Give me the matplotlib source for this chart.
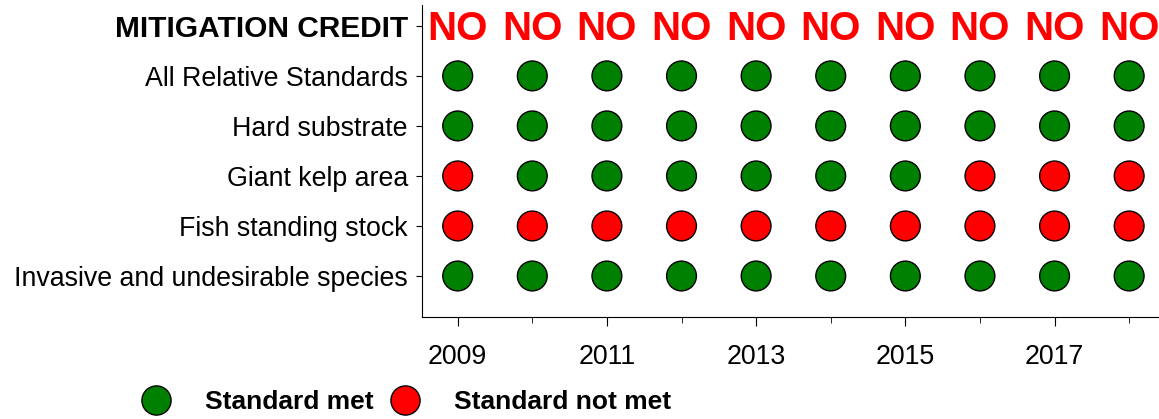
import matplotlib
import matplotlib.pyplot as plt
from matplotlib.lines import Line2D

matplotlib.use("Agg")

plt.rcParams["font.family"] = ["Liberation Sans", "DejaVu Sans"]

YEARS = [2009, 2010, 2011, 2012, 2013, 2014, 2015, 2016, 2017, 2018]
STANDARDS = [
    "Invasive and undesirable species",
    "Fish standing stock",
    "Giant kelp area",
    "Hard substrate",
    "All Relative Standards",
]
# 1 = standard met, 0 = standard not met
INVASIVE = [1, 1, 1, 1, 1, 1, 1, 1, 1, 1]
FISH = [0, 0, 0, 0, 0, 0, 0, 0, 0, 0]
KELP = [0, 1, 1, 1, 1, 1, 1, 0, 0, 0]
SUBSTRATE = [1, 1, 1, 1, 1, 1, 1, 1, 1, 1]
ALL_RELATIVE = [1, 1, 1, 1, 1, 1, 1, 1, 1, 1]
CREDIT = ["NO"] * 10

GREEN = "#008000"
RED = "#ff0000"


def main():
    fig = plt.figure(figsize=(11.59, 4.19), dpi=100)
    ax = fig.add_axes([0.364, 0.2434, 0.636, 0.745])

    rows = [INVASIVE, FISH, KELP, SUBSTRATE, ALL_RELATIVE]
    for i, row in enumerate(rows):
        colors = [GREEN if v else RED for v in row]
        ax.scatter(YEARS, [i] * len(YEARS), s=460, c=colors,
                   edgecolors="black", linewidths=1, zorder=3, clip_on=False)

    credit_y = len(rows)
    for year, txt in zip(YEARS, CREDIT):
        ax.text(year, credit_y - 0.06, txt, color=RED, fontsize=29,
                fontweight="bold", ha="center", va="center")

    ax.set_xlim(2008.52, 2018.4)
    ax.set_ylim(-0.82, 5.42)

    ax.set_yticks(list(range(len(rows) + 1)))
    ax.set_yticklabels(STANDARDS + ["MITIGATION CREDIT"], fontsize=19.3)
    ax.get_yticklabels()[-1].set_fontweight("bold")
    ax.get_yticklabels()[-1].set_fontsize(21.5)

    ax.set_xticks([y for y in YEARS if y % 2 == 1])
    ax.set_xticks([y for y in YEARS if y % 2 == 0], minor=True)
    ax.tick_params(axis="x", which="major", length=6.5, pad=13, labelsize=19.3)
    ax.tick_params(axis="x", which="minor", length=4)
    ax.tick_params(axis="y", length=4, pad=6)

    ax.spines["top"].set_visible(False)
    ax.spines["right"].set_visible(False)

    handles = [
        Line2D([], [], marker="o", linestyle="none", markersize=21,
               markerfacecolor=GREEN, markeredgecolor="black"),
        Line2D([], [], marker="o", linestyle="none", markersize=21,
               markerfacecolor=RED, markeredgecolor="black"),
    ]
    fig.legend(handles, ["Standard met", "Standard not met"], ncol=2,
               loc="center left", bbox_to_anchor=(0.0915, 0.04), frameon=False,
               prop={"weight": "bold", "size": 19}, columnspacing=0.2,
               handletextpad=0.85)

    fig.savefig("out.png", dpi=100)
    plt.close(fig)


if __name__ == "__main__":
    main()
